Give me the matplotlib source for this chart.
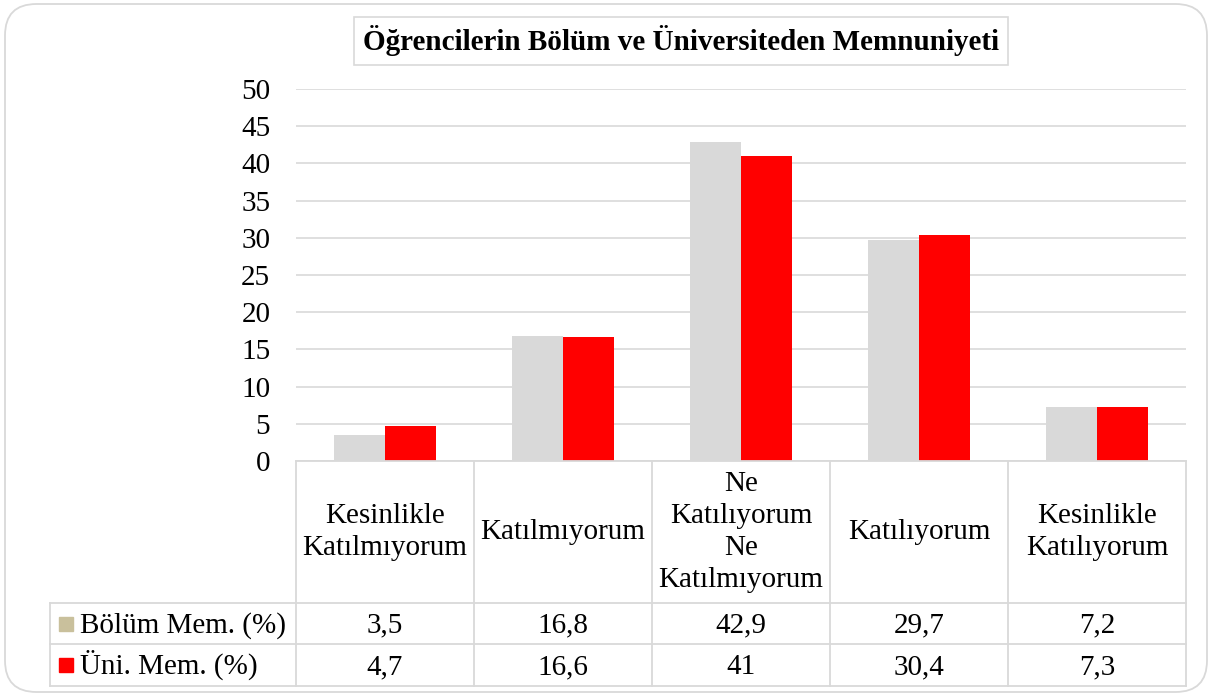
import numpy as np
import matplotlib
matplotlib.use("Agg")
import matplotlib.pyplot as plt
from matplotlib.patches import FancyBboxPatch, Rectangle
from matplotlib.transforms import blended_transform_factory

plt.rcParams['font.family'] = ['Liberation Serif', 'DejaVu Serif']

# data
categories = ["Kesinlikle\nKatılmıyorum", "Katılmıyorum", "Ne\nKatılıyorum\nNe\nKatılmıyorum",
              "Katılıyorum", "Kesinlikle\nKatılıyorum"]
series_names = ["Bölüm Mem. (%)", "Üni. Mem. (%)"]
bolum = [3.5, 16.8, 42.9, 29.7, 7.2]
uni = [4.7, 16.6, 41, 30.4, 7.3]
yticks = list(range(0, 55, 5))

W, H = 1211, 697
fig = plt.figure(figsize=(W / 100, H / 100), dpi=100)

def fx(px):
    return px / W

def fy(py):
    return 1 - py / H

grid_c = "#D9D9D9"
bar_gray = "#D9D9D9"
key_tan = "#C9C09C"
red = "#FF0000"
fs = 21

# outer rounded frame
frame = FancyBboxPatch((fx(5), fy(692)), fx(1202), fy(4) - fy(692),
                       boxstyle="round,pad=0,rounding_size=0.026",
                       transform=fig.transFigure, fill=False, edgecolor=grid_c, lw=1.3,
                       mutation_aspect=W / H)
fig.patches.append(frame)

left, right, top, bottom = 296, 1186, 89, 461
ax = fig.add_axes([fx(left), fy(bottom), fx(right - left), fy(top) - fy(bottom)])
x = np.arange(len(categories))
bw = 0.287
ax.bar(x - bw / 2, bolum, width=bw, color=bar_gray, zorder=3)
ax.bar(x + bw / 2, uni, width=bw, color=red, zorder=3)
ax.set_xlim(-0.5, len(categories) - 0.5)
ax.set_ylim(0, 50)
ax.set_yticks(yticks)
ax.set_yticklabels([str(t) for t in yticks], fontsize=fs)
ax.tick_params(axis='y', length=0, pad=18.5)
ax.set_xticks([])
for s in ax.spines.values():
    s.set_visible(False)
ax.grid(axis='y', color=grid_c, lw=1.2, zorder=0)

# title
fig.text(fx(681), fy(41), "Öğrencilerin Bölüm ve Üniversiteden Memnuniyeti", ha='center', va='center',
         fontsize=21, fontweight='bold',
         bbox=dict(boxstyle="square,pad=0.3", fc="white", ec=grid_c, lw=1.2))

# data table
tr = blended_transform_factory(ax.transData, fig.transFigure)
row_y = [461, 603, 644, 686]
lw = 1.3
fig.add_artist(plt.Line2D([fx(left), fx(right)], [fy(row_y[0])] * 2, color=grid_c, lw=lw))
for ry in row_y[1:]:
    fig.add_artist(plt.Line2D([fx(50), fx(right)], [fy(ry)] * 2, color=grid_c, lw=lw))
for k in range(len(categories) + 1):
    fig.add_artist(plt.Line2D([k - 0.5, k - 0.5], [fy(row_y[0]), fy(row_y[-1])],
                              color=grid_c, lw=lw, transform=tr))
fig.add_artist(plt.Line2D([fx(50), fx(50)], [fy(row_y[1]), fy(row_y[-1])], color=grid_c, lw=lw))

for k, c in enumerate(categories):
    fig.text(k, fy((row_y[0] + row_y[1]) / 2), c, transform=tr, ha='center', va='center',
             fontsize=fs, linespacing=1.3)

for r, (name, vals, col) in enumerate(zip(series_names, [bolum, uni], [key_tan, red])):
    yc_px = (row_y[r + 1] + row_y[r + 2]) / 2
    fig.add_artist(Rectangle((fx(59), fy(yc_px + 7)), 14 / W, 14 / H, transform=fig.transFigure,
                             color=col))
    fig.text(fx(80), fy(yc_px + 9), name, ha='left', va='baseline', fontsize=fs)
    for k, v in enumerate(vals):
        fig.text(k, fy(yc_px + 9), f"{v:g}".replace('.', ','), transform=tr, ha='center',
                 va='baseline', fontsize=fs)

fig.savefig("out.png", dpi=100)
